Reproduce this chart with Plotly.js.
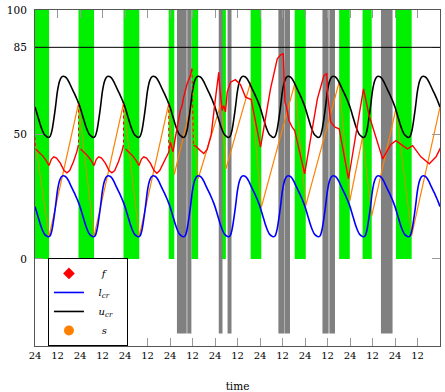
<!DOCTYPE html>
<html><head><meta charset="utf-8">
<script src="https://cdn.plot.ly/plotly-3.0.1.min.js"></script>
<style>html,body{margin:0;padding:0;background:#fff}</style>
</head><body><div id="chart" style="width:445px;height:392px"></div>
<script>
// ---- data (hours since start; x tick labels show hour of day) ----
const nDays = 9;
const hourOfDay = [0,1,2,3,4,5,6,7,8,9,10,11,12,13,14,15,16,17,18,19,20,21,22,23];
const uCrDaily = [61,58.5,56,53.5,51.5,50,49.3,48.8,49.2,51.5,56,61.5,67.5,71.2,72.9,73.4,73.2,72.5,71.2,69.6,68,66.5,64.8,63];
const lCrDaily = [21,18.5,16,13.5,11.5,10,9.3,8.9,9.2,11.5,16,21.5,27.5,31.2,32.9,33.4,33.2,32.5,31.2,29.6,28,26.5,24.8,23];

const fTime = [0.3,2,4,6,7.5,8.7,10,11.5,13.5,15.5,17,18.5,20.5,22.3,23.2,null,
  24.3,26,28,30,31.5,32.7,34,35.5,37.5,39.5,41,42.5,44.5,46.3,47.2,null,
  48.3,50,52,54,55.5,56.7,58,59.5,61.5,63.5,65,66.5,68.5,70.3,71.3,
  72.2,73.6,74.9,76.6,77.5,78.4,79.3,81.1,82.9,83.7,null,
  84.5,85.5,88.2,90,91.8,94,96,98,98.4,99.8,100.7,101.6,102.5,104.3,106.9,109.6,112.3,114.6,115.3,
  120.3,125.6,129.2,131,132.4,133.3,134.2,135.4,137.2,138.5,143.8,150.6,154.1,155.6,156.1,156.8,157.7,160,162.2,
  167.2,175.2,178.2,185.4,189.8,192.5,196.1,198.7,201.4,205.8,210.3,213.9,216.5];
const fValue = [44.2,43,41.5,39.5,37.5,40,41,40.5,38.5,35.5,34.6,35.5,39,43,45.8,null,
  44.2,43,41.5,39.5,37.5,40,41,40.5,38.5,35.5,34.6,35.5,39,43,45.8,null,
  44.2,43,41.5,39.5,37.5,40,41,40.5,38.5,35.5,34.4,35.5,38.5,41.5,42.8,
  46.9,43,48.9,57,59.6,61.5,65,70.3,73.7,76.4,null,
  45.5,45.5,43.5,42.3,44,50,63,75,70,59.6,61.6,59,67,71,72,70,65,64.3,64,
  44.9,68.3,80.4,82,82.4,63,61,55.6,52.9,51.6,34.2,64.3,73.7,74.4,66,62,55,52.9,52.3,
  32.2,68.3,57.6,40.2,46,47.5,45.5,44.2,45.5,41,38.2,41,45];
// fast transitions of f (drawn dotted)
const fJumpTime  = [0,0.3,null,23.2,23.2,null,47.2,47.2,null,71.3,71.3,null,83.7,84.5];
const fJumpValue = [49,44.2,null,62.4,45.8,null,62.4,45.8,null,62.3,42.8,null,76.4,45.5];

const sTime  = [0,7.5,23.2,31.5,47.2,55.6,71.3,74.3,83.4,87.0,99.4,101.8,115,120.7,138.5,144.4,162.2,167.9,174.7,179.6,192.5,200.9,216];
const sValue = [48,9.1,62.4,9.1,62.4,9.1,62.3,34.0,62.3,32.2,62.9,36.2,71,20.7,70.3,21.4,71,23.4,48.9,17.4,60.3,9.4,61];

const greenStart = [-1,23.2,47.2,71.3,83.4,99.7,115.0,138.5,162.2,174.7,192.5,216.0];
const greenEnd   = [7.5,31.5,55.6,74.3,87.0,101.8,120.7,144.4,167.9,179.6,200.9,218];
const grayStart = [75.7,81.2,98.0,102.7,129.8,133.0,153.3,157.0,184.5];
const grayEnd   = [80.9,83.4,100.0,104.8,132.8,136.0,156.6,160.0,190.7];
const thresholdLevel = [85];

const xTickVals = [0,12,24,36,48,60,72,84,96,108,120,132,144,156,168,180,192,204,216];
const xTickText = ['24','12','24','12','24','12','24','12','24','12','24','12','24','12','24','12','24','12','24'];
const yTickVals = [0,50,85,100];

// ---- build daily-repeating curves from the read daily profile ----
const tHours = [], uCr = [], lCr = [];
for (let d = 0; d < nDays; d++) {
  for (let i = 0; i < hourOfDay.length; i++) {
    tHours.push(d*24 + hourOfDay[i]); uCr.push(uCrDaily[i]); lCr.push(lCrDaily[i]);
  }
}
tHours.push(nDays*24); uCr.push(uCrDaily[0]); lCr.push(lCrDaily[0]);

// split s into rising (solid) and falling (thin) segments
const sUpX=[], sUpY=[], sDnX=[], sDnY=[];
for (let i = 0; i < sTime.length-1; i++) {
  const up = sValue[i+1] > sValue[i];
  const X = up ? sUpX : sDnX, Y = up ? sUpY : sDnY;
  X.push(sTime[i], sTime[i+1], null); Y.push(sValue[i], sValue[i+1], null);
}

const shapes = [];
greenStart.forEach((s,i)=>shapes.push({type:'rect',xref:'x',yref:'y',x0:s,x1:greenEnd[i],y0:0,y1:100,
  fillcolor:'#00f000',line:{width:0},layer:'below'}));
grayStart.forEach((s,i)=>shapes.push({type:'rect',xref:'x',yref:'y',x0:s,x1:grayEnd[i],y0:-30,y1:100,
  fillcolor:'#808080',line:{width:0},layer:'below'}));
thresholdLevel.forEach(v=>shapes.push({type:'line',xref:'paper',yref:'y',x0:0,x1:1,y0:v,y1:v,
  line:{color:'#000',width:1},layer:'above'}));

const serif = 'DejaVu Serif';
const sp = '&nbsp;&nbsp;&nbsp;';
const traces = [
  {x:sDnX,y:sDnY,mode:'lines',line:{color:'#ff8000',width:0.8},showlegend:false,connectgaps:false},
  {x:sUpX,y:sUpY,mode:'lines',line:{color:'#ff8000',width:1.2},showlegend:false,connectgaps:false},
  {x:tHours,y:lCr,mode:'lines',line:{color:'#0000ff',width:1.6,shape:'spline'},name:sp+'<i>l</i><sub><i>cr</i></sub>'+sp+'&nbsp;',legendrank:2},
  {x:tHours,y:uCr,mode:'lines',line:{color:'#000',width:1.6,shape:'spline'},name:sp+'<i>u</i><sub><i>cr</i></sub>'+sp,legendrank:3},
  {x:fJumpTime,y:fJumpValue,mode:'lines',line:{color:'#ff0000',width:1,dash:'dot'},showlegend:false,connectgaps:false},
  {x:fTime,y:fValue,mode:'lines',line:{color:'#ff0000',width:1.4},showlegend:false,connectgaps:false},
  {x:[null],y:[null],mode:'markers',marker:{symbol:'diamond',size:9,color:'#ff0000'},name:sp+'&nbsp;<i>f</i>',legendrank:1},
  {x:[null],y:[null],mode:'markers',marker:{symbol:'circle',size:10,color:'#ff8000'},name:sp+'&nbsp;<i>s</i>',legendrank:4}
];

const layout = {
  width:445,height:392,margin:{l:35,r:5,t:10,b:46},
  paper_bgcolor:'#fff',plot_bgcolor:'#fff',
  font:{family:serif,size:10,color:'#000'},
  xaxis:{range:[0,216],tickvals:xTickVals,ticktext:xTickText,ticks:'inside',ticklen:8,tickcolor:'#999',
    showline:true,linecolor:'#555',linewidth:1,mirror:'ticks',showgrid:false,zeroline:false,
    tickfont:{family:serif,size:10},title:{text:'time',font:{family:serif,size:10.5},standoff:23}},
  yaxis:{range:[-35,100],tickvals:yTickVals,ticks:'inside',ticklen:8,tickcolor:'#999',
    showline:true,linecolor:'#555',linewidth:1,mirror:'ticks',showgrid:false,zeroline:false,
    tickfont:{family:serif,size:10.5},ticklabelstandoff:5},
  shapes:shapes,
  showlegend:true,
  legend:{x:0.032,y:0.262,xanchor:'left',yanchor:'top',bgcolor:'#fff',bordercolor:'#000',borderwidth:1,
    font:{family:serif,size:10},itemwidth:30,tracegroupgap:0}
};
Plotly.newPlot('chart',traces,layout,{staticPlot:true});
</script></body></html>
